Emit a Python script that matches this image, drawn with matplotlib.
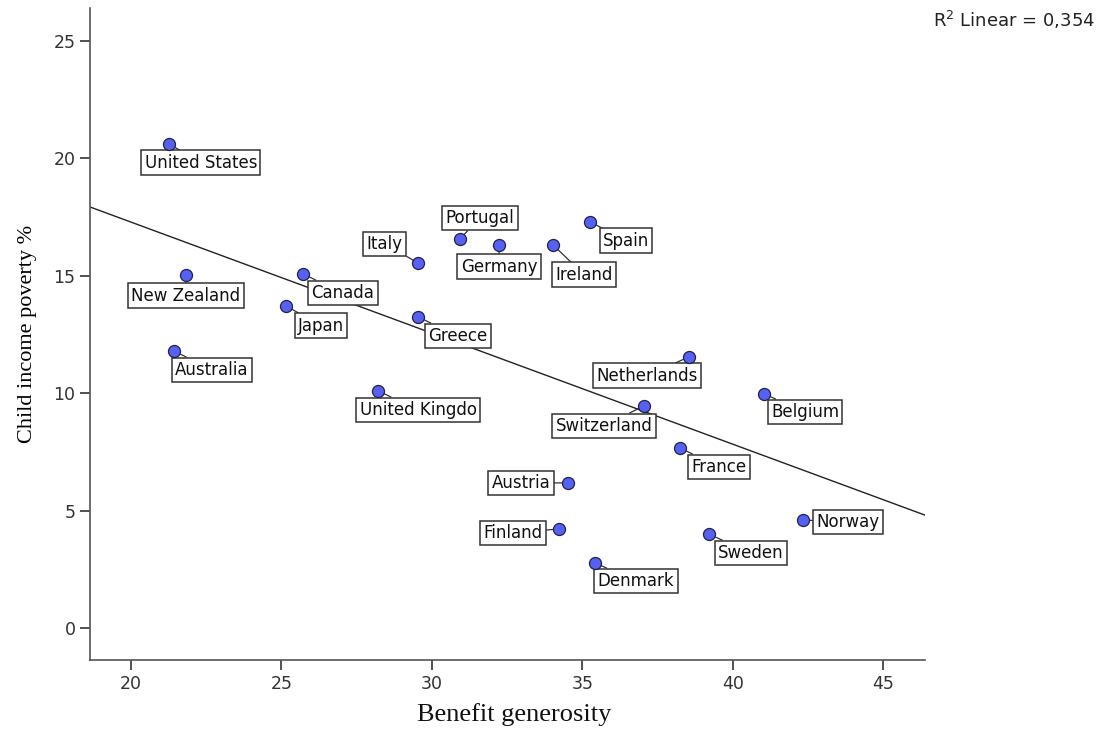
import numpy as np
import matplotlib
matplotlib.use("Agg")
import matplotlib.pyplot as plt

countries = ["United States", "New Zealand", "Australia", "Japan", "Canada",
             "United Kingdo", "Italy", "Greece", "Portugal", "Germany", "Ireland",
             "Spain", "Austria", "Finland", "Denmark", "Switzerland", "Netherlands",
             "France", "Belgium", "Sweden", "Norway"]
generosity = [21.26, 21.83, 21.43, 25.15, 25.71, 28.21, 29.53, 29.53, 30.93, 32.23, 34.02,
              35.25, 34.52, 34.22, 35.42, 37.04, 38.54, 38.24, 41.03, 39.20, 42.33]
poverty = [20.62, 15.04, 11.80, 13.72, 15.08, 10.10, 15.55, 13.25, 16.57, 16.32, 16.32,
           17.30, 6.18, 4.22, 2.77, 9.46, 11.55, 7.67, 9.97, 4.00, 4.60]
x_ticks = [20, 25, 30, 35, 40, 45]
y_ticks = [0, 5, 10, 15, 20, 25]

# label offsets in pixels (dx right, dy down)
offsets = {
    "United States": (32, 19), "New Zealand": (0, 21), "Australia": (38, 19),
    "Japan": (35, 20), "Canada": (40, 19), "United Kingdo": (40, 19),
    "Italy": (-33, -19), "Greece": (40, 19), "Portugal": (20, -21),
    "Germany": (0, 22), "Ireland": (31, 30), "Spain": (36, 19),
    "Austria": (-47, 0), "Finland": (-46, 4), "Denmark": (41, 18),
    "Switzerland": (-40, 20), "Netherlands": (-42, 19), "France": (39, 19),
    "Belgium": (41, 18), "Sweden": (42, 19), "Norway": (45, 2),
}

fig = plt.figure(figsize=(11.02, 7.29), dpi=100)
ax = fig.add_axes([90 / 1102, 1 - 660 / 729, (925 - 90) / 1102, (660 - 8) / 729])

xmin, xmax = 18.64, 46.38
ymin, ymax = -1.36, 26.4
ax.set_xlim(xmin, xmax)
ax.set_ylim(ymin, ymax)

# linear fit
slope, intercept = np.polyfit(generosity, poverty, 1)
xs = np.array([xmin, xmax])
ax.plot(xs, intercept + slope * xs, color="#222222", lw=1.0, zorder=2)

ax.scatter(generosity, poverty, s=75, color="#5660f2", edgecolor="#222244",
           linewidth=0.9, zorder=4)

px_to_pt = 72 / 100
for name, gx, py in zip(countries, generosity, poverty):
    dx, dy = offsets[name]
    ax.annotate(name, xy=(gx, py), xytext=(dx * px_to_pt, -dy * px_to_pt),
                textcoords="offset points", ha="center", va="center",
                fontsize=12, color="#111111",
                bbox=dict(boxstyle="square,pad=0.2", fc="white", ec="#333333", lw=1.1),
                arrowprops=dict(arrowstyle="-", color="#333333", lw=0.9,
                                shrinkA=0, shrinkB=0),
                zorder=3)

for side in ("top", "right"):
    ax.spines[side].set_visible(False)
for side in ("left", "bottom"):
    ax.spines[side].set_color("#555555")
    ax.spines[side].set_linewidth(1.2)

ax.set_xticks(x_ticks)
ax.set_yticks(y_ticks)
ax.tick_params(direction="out", length=7, width=1.2, color="#333333",
               labelsize=12.5, labelcolor="#333333")

fig.text(514 / 1102, 1 - 721 / 729, "Benefit generosity", family="Liberation Serif",
         fontsize=19, ha="center", va="baseline", color="#111111")
ax.set_ylabel("Child income poverty %", family="Liberation Serif", fontsize=16, labelpad=12)

fig.text(1095 / 1102, 1 - 20 / 729, r"R$^2$ Linear = 0,354", ha="right", va="center",
         fontsize=13, color="#222222")

fig.savefig("out.png", dpi=100)
